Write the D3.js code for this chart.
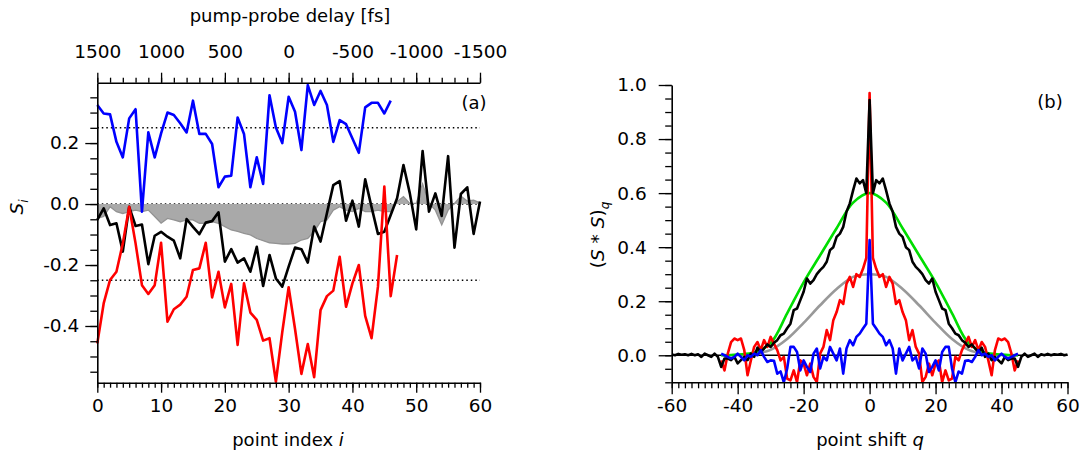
<!DOCTYPE html>
<html>
<head>
<meta charset="utf-8">
<script src="https://cdn.jsdelivr.net/npm/d3@7"></script>
<style>
  body { margin: 0; background: #fff; }
  text { font-family: "DejaVu Sans", sans-serif; fill: #000; }
</style>
</head>
<body>
<div id="chart"></div>
<script>
// ---- panel (a): signal per point index ----
const blueA = [0.325, 0.297, 0.294, 0.204, 0.153, 0.281, 0.311, -0.025, 0.235, 0.153,
  0.232, 0.300, 0.292, 0.265, 0.235, 0.339, 0.230, 0.230, 0.197, 0.055,
  0.090, 0.093, 0.284, 0.230, 0.055, 0.153, 0.066, 0.357, 0.251, 0.200,
  0.352, 0.303, 0.177, 0.390, 0.325, 0.371, 0.325, 0.204, 0.275, 0.262,
  0.215, 0.168, 0.317, 0.332, 0.332, 0.297, 0.339];
const redA = [-0.457, -0.326, -0.249, -0.222, -0.129, -0.009, -0.129, -0.266, -0.295, -0.266,
  -0.127, -0.386, -0.345, -0.330, -0.304, -0.216, -0.211, -0.127, -0.306, -0.222,
  -0.339, -0.262, -0.462, -0.260, -0.356, -0.380, -0.448, -0.440, -0.583, -0.420,
  -0.273, -0.410, -0.557, -0.459, -0.568, -0.348, -0.302, -0.284, -0.173, -0.337,
  -0.260, -0.200, -0.367, -0.440, -0.271, 0.057, -0.302, -0.167];
const blackA = [-0.052, -0.014, -0.069, -0.063, -0.156, -0.009, -0.072, -0.067, -0.197, -0.104,
  -0.091, -0.107, -0.120, -0.178, -0.049, -0.075, -0.099, -0.061, -0.056, -0.027,
  -0.189, -0.148, -0.192, -0.178, -0.222, -0.140, -0.269, -0.167, -0.244, -0.271,
  -0.205, -0.143, -0.148, -0.192, -0.074, -0.123, -0.030, 0.062, 0.075, -0.055,
  0.011, -0.074, 0.081, -0.010, -0.098, -0.091, -0.036, 0.019, 0.128, 0.035,
  -0.083, 0.174, -0.025, 0.035, -0.039, 0.157, -0.143, 0.033, 0.055, -0.098,
  0.008];
const grayA = [-0.047, -0.041, -0.009, -0.025, -0.031, -0.025, -0.020, -0.025, -0.020, -0.041,
  -0.063, -0.047, -0.052, -0.058, -0.052, -0.052, -0.063, -0.063, -0.058, -0.063,
  -0.074, -0.085, -0.090, -0.096, -0.101, -0.113, -0.120, -0.127, -0.129, -0.131,
  -0.131, -0.129, -0.118, -0.113, -0.090, -0.058, -0.052, -0.020, -0.009, -0.020,
  -0.025, -0.014, -0.025, -0.025, -0.020, -0.025, -0.025, 0.008, 0.024, 0.002,
  0.002, 0.066, 0.002, -0.020, -0.068, -0.020, 0.002, 0.026, 0.010, 0.013,
  0.004];
const refLevels = [0.25, 0, -0.25];
const delayTicks = [1500, 1000, 500, 0, -500, -1000, -1500];

// ---- panel (b): autocorrelation, one half (q >= 0), mirrored below ----
const blackHalf = [0.944, 0.600, 0.648, 0.636, 0.654, 0.610, 0.562, 0.531, 0.475, 0.450,
  0.438, 0.400, 0.389, 0.346, 0.327, 0.315, 0.300, 0.278, 0.265, 0.284,
  0.235, 0.204, 0.173, 0.167, 0.117, 0.100, 0.080, 0.074, 0.056, 0.046,
  0.031, 0.040, 0.025, 0.012, 0.028, -0.006, 0.006, -0.018, -0.006, -0.018,
  -0.030, -0.006, -0.018, -0.012, -0.012, -0.043, -0.006, 0.006, -0.006, 0.000,
  0.006, -0.006, 0.004, 0.000, 0.005, 0.000, 0.004, 0.002, 0.005, 0.000,
  0.003];
const redHalf = [0.970, 0.360, 0.320, 0.290, 0.300, 0.253, 0.290, 0.265, 0.190, 0.204,
  0.160, 0.130, 0.056, 0.093, 0.031, 0.006, -0.099, -0.080, -0.031, -0.074,
  -0.031, -0.019, -0.099, -0.056, -0.093, -0.086, -0.006, -0.019, 0.019, 0.043,
  0.068, 0.031, 0.056, 0.019, 0.049, 0.031, -0.019, -0.074, 0.019, 0.062,
  0.056, 0.062, 0.049, 0.006, -0.056, -0.019];
const blueHalf = [0.426, 0.117, 0.099, 0.080, 0.068, 0.037, 0.056, 0.025, -0.068, 0.025,
  -0.019, 0.006, 0.031, -0.019, -0.006, -0.049, 0.025, 0.006, -0.062, -0.043,
  -0.019, -0.056, 0.012, 0.031, 0.031, -0.050, -0.100, -0.060, -0.068, -0.020,
  -0.019, -0.025, -0.006, 0.019, 0.000, 0.006, -0.006, 0.000, -0.019, -0.006,
  0.006, -0.006, -0.012, -0.006, 0.000, 0.006];
const fitQ = [0, 5, 10, 15, 20, 25, 30, 35, 40, 45];
const greenFit = [0.600, 0.565, 0.470, 0.370, 0.270, 0.155, 0.045, 0.010, 0.003, 0.000];
const grayFit = [0.300, 0.290, 0.245, 0.185, 0.120, 0.060, 0.020, 0.005, 0.001, 0.000];

const W = 1083, H = 459;
const svg = d3.select("#chart").append("svg")
  .attr("width", W).attr("height", H)
  .style("background", "#fff");

function mirror(half) {
  return half.map((v, k) => ({ q: k, v: v }))
    .concat(half.slice(1).map((v, k) => ({ q: -(k + 1), v: v })))
    .sort((a, b) => a.q - b.q);
}
function mirrorFit(qs, vals) {
  const pts = qs.map((q, k) => ({ q: q, v: vals[k] }));
  return pts.slice(1).map(p => ({ q: -p.q, v: p.v })).reverse().concat(pts);
}

function drawAxis(g, axisFn, scale, majors, minors, bigLen, smallLen, fmt, pad) {
  g.append("g").call(axisFn(scale).tickValues(minors).tickSize(smallLen).tickSizeOuter(0).tickFormat(""))
    .call(s => s.select(".domain").remove());
  g.append("g").call(axisFn(scale).tickValues(majors).tickSize(bigLen)
    .tickSizeOuter(0).tickPadding(pad).tickFormat(fmt));
  g.selectAll("line").attr("stroke", "#000").attr("stroke-width", 1.3);
  g.selectAll(".domain").attr("stroke", "#000").attr("stroke-width", 1.6);
  g.selectAll("text").attr("font-size", 18.5).attr("font-family", "DejaVu Sans, sans-serif");
}

// ================= panel (a) =================
const xa = d3.scaleLinear().domain([0, 60]).range([97.3, 480]);
const xaTop = d3.scaleLinear().domain([1500, -1500]).range([97.3, 480]);
const ya = d3.scaleLinear().domain([-0.586, 0.398]).range([382.7, 82.7]);

const pa = svg.append("g");

pa.selectAll("line.ref").data(refLevels).enter().append("line")
  .attr("x1", xa(0)).attr("x2", xa(60))
  .attr("y1", d => ya(d)).attr("y2", d => ya(d))
  .attr("stroke", "#000").attr("stroke-width", 1.5)
  .attr("stroke-dasharray", "1.5,3");

pa.append("path").datum(grayA)
  .attr("d", d3.area().x((d, i) => xa(i)).y0(ya(0)).y1(d => ya(d)))
  .attr("fill", "#a9a9a9");
pa.append("path").datum(grayA)
  .attr("d", d3.line().x((d, i) => xa(i)).y(d => ya(d)))
  .attr("fill", "none").attr("stroke", "#939393").attr("stroke-width", 1.3);

const lineA = d3.line().x((d, i) => xa(i)).y(d => ya(d));
[[blackA, "#000"], [redA, "#ff0000"], [blueA, "#0000ff"]].forEach(([data, col]) => {
  pa.append("path").datum(data).attr("d", lineA)
    .attr("fill", "none").attr("stroke", col).attr("stroke-width", 2.6)
    .attr("stroke-linejoin", "round");
});

drawAxis(pa.append("g").attr("transform", "translate(0,382.7)"), d3.axisBottom, xa,
  d3.range(0, 61, 10), d3.range(0, 61, 1), 10, 5, d => String(d), 6);
drawAxis(pa.append("g").attr("transform", "translate(0,82.7)"), d3.axisTop, xaTop,
  delayTicks, d3.range(-1500, 1501, 100), 10, 5, d => String(d), 15);
drawAxis(pa.append("g").attr("transform", "translate(97.3,0)"), d3.axisLeft, ya,
  [-0.4, -0.2, 0, 0.2], d3.range(-0.55, 0.4, 0.05), 12, 7, d => d.toFixed(1), 6);

pa.append("text").attr("x", 474).attr("y", 109).attr("text-anchor", "middle")
  .attr("font-size", 18).text("(a)");
pa.append("text").attr("x", 290).attr("y", 22).attr("text-anchor", "middle")
  .attr("font-size", 18).text("pump-probe delay [fs]");
const xla = pa.append("text").attr("x", 288).attr("y", 446).attr("text-anchor", "middle")
  .attr("font-size", 18);
xla.append("tspan").text("point index ");
xla.append("tspan").attr("font-style", "italic").text("i");
const yla = pa.append("text").attr("transform", "translate(23,207) rotate(-90)")
  .attr("text-anchor", "middle").attr("font-size", 18.5);
yla.append("tspan").attr("font-style", "italic").text("S");
yla.append("tspan").attr("font-style", "italic").attr("font-size", 12).attr("dy", 5).text("i");

// ================= panel (b) =================
const xb = d3.scaleLinear().domain([-60, 60]).range([671.7, 1067.5]);
const yb = d3.scaleLinear().domain([-0.1, 1.0]).range([382.3, 85]);

const pb = svg.append("g");
pb.append("clipPath").attr("id", "clipb").append("rect")
  .attr("x", 671.7).attr("y", 70).attr("width", 400).attr("height", 382.3 - 70);

pb.append("line").attr("x1", xb(-60)).attr("x2", xb(60))
  .attr("y1", yb(0)).attr("y2", yb(0)).attr("stroke", "#000").attr("stroke-width", 1.3);

const lineB = d3.line().x(d => xb(d.q)).y(d => yb(d.v));
const smoothB = d3.line().x(d => xb(d.q)).y(d => yb(d.v)).curve(d3.curveCatmullRom);
const plotB = pb.append("g").attr("clip-path", "url(#clipb)");
plotB.append("path").datum(mirrorFit(fitQ, grayFit)).attr("d", smoothB)
  .attr("fill", "none").attr("stroke", "#999").attr("stroke-width", 2.6);
plotB.append("path").datum(mirrorFit(fitQ, greenFit)).attr("d", smoothB)
  .attr("fill", "none").attr("stroke", "#00dd00").attr("stroke-width", 2.6);
[[redHalf, "#ff0000"], [blackHalf, "#000"], [blueHalf, "#0000ff"]].forEach(([half, col]) => {
  plotB.append("path").datum(mirror(half)).attr("d", lineB)
    .attr("fill", "none").attr("stroke", col).attr("stroke-width", 2.6)
    .attr("stroke-linejoin", "round");
});

drawAxis(pb.append("g").attr("transform", "translate(0,382.3)"), d3.axisBottom, xb,
  d3.range(-60, 61, 20), d3.range(-60, 61, 2), 12, 6, d => String(d), 5);
drawAxis(pb.append("g").attr("transform", "translate(671.7,0)"), d3.axisLeft, yb,
  [0, 0.2, 0.4, 0.6, 0.8, 1.0], d3.range(-0.1, 1.001, 0.05), 13, 6.5, d => d.toFixed(1), 12);

pb.append("text").attr("x", 1050).attr("y", 108).attr("text-anchor", "middle")
  .attr("font-size", 18).text("(b)");
const xlb = pb.append("text").attr("x", 870).attr("y", 446).attr("text-anchor", "middle")
  .attr("font-size", 18);
xlb.append("tspan").text("point shift ");
xlb.append("tspan").attr("font-style", "italic").text("q");
const ylb = pb.append("text").attr("transform", "translate(604,235) rotate(-90)")
  .attr("text-anchor", "middle").attr("font-size", 18.5);
ylb.append("tspan").text("(");
ylb.append("tspan").attr("font-style", "italic").text("S");
ylb.append("tspan").text(" * ");
ylb.append("tspan").attr("font-style", "italic").text("S");
ylb.append("tspan").text(")");
ylb.append("tspan").attr("font-style", "italic").attr("font-size", 12).attr("dy", 5).text("q");
</script>
</body>
</html>
